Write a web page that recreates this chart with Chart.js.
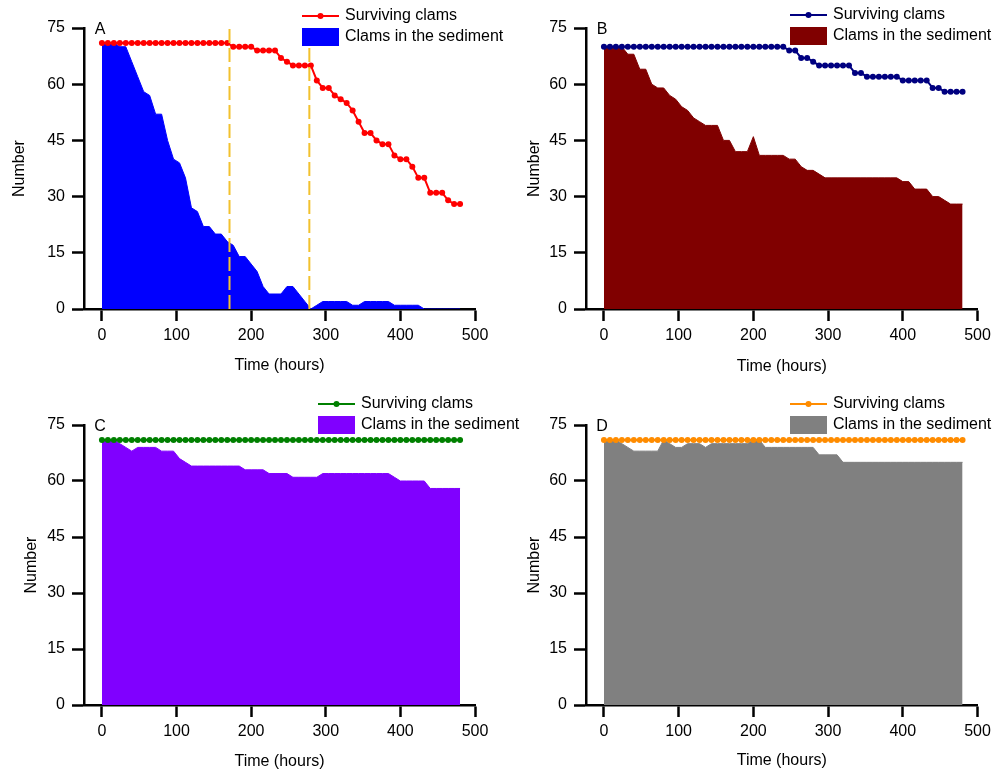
<!DOCTYPE html>
<html lang="en">
<head>
  <meta charset="UTF-8">
  <title>Clams — sediment and survival</title>
  <script src="https://cdn.jsdelivr.net/npm/chart.js"></script>
  <style>
    body { margin: 0; background: #fff; }
    .wrap { position: relative; width: 1005px; height: 771px; }
    canvas { position: absolute; }
  </style>
</head>
<body>
  <div class="wrap">
    <canvas id="chartB" width="503" height="385" style="left:502px;top:0"></canvas>
    <canvas id="chartD" width="503" height="386" style="left:502px;top:385px"></canvas>
    <canvas id="chartA" width="530" height="385" style="left:0;top:0"></canvas>
    <canvas id="chartC" width="530" height="386" style="left:0;top:385px"></canvas>
  </div>

  <script>
    // sampling times, every 8 h
    const hours = [0, 8, 16, 24, 32, 40, 48, 56, 64, 72, 80, 88, 96, 104, 112, 120, 128, 136, 144, 152,
      160, 168, 176, 184, 192, 200, 208, 216, 224, 232, 240, 248, 256, 264, 272, 280, 288, 296, 304, 312,
      320, 328, 336, 344, 352, 360, 368, 376, 384, 392, 400, 408, 416, 424, 432, 440, 448, 456, 464, 472, 480];

    const xTicks = [0, 100, 200, 300, 400, 500];
    const yTicks = [0, 15, 30, 45, 60, 75];
    const seriesLabels = ["Surviving clams", "Clams in the sediment"];
    const markerHoursA = [171, 278];

    const survivingA = [71, 71, 71, 71, 71, 71, 71, 71, 71, 71, 71, 71, 71, 71, 71, 71, 71, 71, 71, 71,
      71, 71, 70, 70, 70, 70, 69, 69, 69, 69, 67, 66, 65, 65, 65, 65, 61, 59, 59, 57,
      56, 55, 53, 50, 47, 47, 45, 44, 44, 41, 40, 40, 38, 35, 35, 31, 31, 31, 29, 28, 28];
    const sedimentA = [71, 71, 71, 70, 70, 66, 62, 58, 57, 52, 52, 45, 40, 39, 35, 27, 26, 22, 22, 20,
      20, 18, 17, 14, 14, 12, 10, 6, 4, 4, 4, 6, 6, 4, 2, 0, 1, 2, 2, 2,
      2, 2, 1, 1, 2, 2, 2, 2, 2, 1, 1, 1, 1, 1, 0, 0, 0, 0, 0, 0, 0];

    const survivingB = [70, 70, 70, 70, 70, 70, 70, 70, 70, 70, 70, 70, 70, 70, 70, 70, 70, 70, 70, 70,
      70, 70, 70, 70, 70, 70, 70, 70, 70, 70, 70, 69, 69, 67, 67, 66, 65, 65, 65, 65,
      65, 65, 63, 63, 62, 62, 62, 62, 62, 62, 61, 61, 61, 61, 61, 59, 59, 58, 58, 58, 58];
    const sedimentB = [70, 70, 70, 70, 68, 68, 64, 64, 60, 59, 59, 57, 56, 54, 53, 51, 50, 49, 49, 49,
      45, 45, 42, 42, 42, 46, 41, 41, 41, 41, 41, 40, 40, 38, 37, 37, 36, 35, 35, 35,
      35, 35, 35, 35, 35, 35, 35, 35, 35, 35, 34, 34, 32, 32, 32, 30, 30, 29, 28, 28, 28];

    const survivingC = [71, 71, 71, 71, 71, 71, 71, 71, 71, 71, 71, 71, 71, 71, 71, 71, 71, 71, 71, 71,
      71, 71, 71, 71, 71, 71, 71, 71, 71, 71, 71, 71, 71, 71, 71, 71, 71, 71, 71, 71,
      71, 71, 71, 71, 71, 71, 71, 71, 71, 71, 71, 71, 71, 71, 71, 71, 71, 71, 71, 71, 71];
    const sedimentC = [71, 71, 71, 70, 69, 68, 69, 69, 69, 69, 68, 68, 68, 66, 65, 64, 64, 64, 64, 64,
      64, 64, 64, 64, 63, 63, 63, 63, 62, 62, 62, 62, 61, 61, 61, 61, 61, 62, 62, 62,
      62, 62, 62, 62, 62, 62, 62, 62, 62, 61, 60, 60, 60, 60, 60, 58, 58, 58, 58, 58, 58];

    const survivingD = [71, 71, 71, 71, 71, 71, 71, 71, 71, 71, 71, 71, 71, 71, 71, 71, 71, 71, 71, 71,
      71, 71, 71, 71, 71, 71, 71, 71, 71, 71, 71, 71, 71, 71, 71, 71, 71, 71, 71, 71,
      71, 71, 71, 71, 71, 71, 71, 71, 71, 71, 71, 71, 71, 71, 71, 71, 71, 71, 71, 71, 71];
    const sedimentD = [71, 71, 71, 70, 69, 68, 68, 68, 68, 68, 71, 70, 69, 69, 70, 70, 70, 69, 70, 70,
      70, 70, 70, 70, 70, 71, 71, 69, 69, 69, 69, 69, 69, 69, 69, 69, 67, 67, 67, 67,
      65, 65, 65, 65, 65, 65, 65, 65, 65, 65, 65, 65, 65, 65, 65, 65, 65, 65, 65, 65, 65];

    const FONT = 'Arial, "Liberation Sans", sans-serif';
    Chart.defaults.font.family = FONT;
    Chart.defaults.font.size = 16;
    Chart.defaults.color = "#000";

    // panel letter, custom legend and dashed time markers
    const panelDecor = {
      id: "panelDecor",
      afterDatasetsDraw(chart, args, o) {
        if (!o.markers) return;
        const ctx = chart.ctx, xs = chart.scales.x, ys = chart.scales.y;
        ctx.save();
        ctx.strokeStyle = "#F2C12E";
        ctx.lineWidth = 2;
        ctx.setLineDash([14, 5]);
        o.markers.forEach(h => {
          const px = xs.getPixelForValue(h);
          ctx.beginPath();
          ctx.moveTo(px, ys.getPixelForValue(0));
          ctx.lineTo(px, ys.getPixelForValue(75));
          ctx.stroke();
        });
        ctx.restore();
      },
      afterDraw(chart, args, o) {
        const ctx = chart.ctx, area = chart.chartArea;
        const ds = chart.data.datasets;
        ctx.save();
        ctx.font = "16px " + FONT;
        ctx.fillStyle = "#000";
        ctx.textAlign = "center";
        ctx.textBaseline = "middle";
        ctx.fillText(o.letter, area.left + 16, area.top + 2);

        const lg = o.legend;
        // line sample
        ctx.strokeStyle = ds[0].borderColor;
        ctx.lineWidth = 2;
        ctx.beginPath();
        ctx.moveTo(lg.x, lg.lineY);
        ctx.lineTo(lg.x + 37, lg.lineY);
        ctx.stroke();
        ctx.fillStyle = ds[0].borderColor;
        ctx.beginPath();
        ctx.arc(lg.x + 18.5, lg.lineY, 3, 0, Math.PI * 2);
        ctx.fill();
        // box sample
        ctx.fillStyle = ds[1].backgroundColor;
        ctx.fillRect(lg.x, lg.boxTop, 37, 18);

        ctx.fillStyle = "#000";
        ctx.textAlign = "left";
        ctx.fillText(ds[0].label, lg.x + 43, lg.lineY);
        ctx.fillText(ds[1].label, lg.x + 43, lg.boxTop + 9);
        ctx.restore();
      }
    };

    function drawPanel(p) {
      const ctx = document.getElementById(p.id).getContext("2d");
      return new Chart(ctx, {
        type: "line",
        data: {
          labels: hours,
          datasets: [
            {
              label: seriesLabels[0], data: p.surviving,
              borderColor: p.lineColor, backgroundColor: p.lineColor,
              borderWidth: 2, pointRadius: 3, pointBorderWidth: 0,
              pointBackgroundColor: p.lineColor, fill: false, tension: 0
            },
            {
              label: seriesLabels[1], data: p.sediment,
              borderColor: p.fillColor, backgroundColor: p.fillColor,
              borderWidth: 1, pointRadius: 0, fill: "origin", tension: 0
            }
          ]
        },
        options: {
          responsive: false,
          animation: false,
          layout: { padding: { left: 0, top: p.top, right: p.right, bottom: 0 } },
          plugins: {
            legend: { display: false },
            tooltip: { enabled: false },
            panelDecor: { letter: p.letter, legend: p.legend, markers: p.markers }
          },
          scales: {
            x: {
              type: "linear", min: -24, max: 500,
              afterBuildTicks: s => { s.ticks = xTicks.map(v => ({ value: v })); },
              afterFit: s => { s.height = p.bottom; },
              grid: { drawOnChartArea: false, drawTicks: true, tickLength: 12, tickWidth: 2.5, tickColor: "#000" },
              border: { display: true, color: "#000", width: 2.5 },
              ticks: { padding: 5, color: "#000", maxRotation: 0 },
              title: { display: true, text: "Time (hours)", color: "#000", padding: { top: 0, bottom: p.xTitlePad } }
            },
            y: {
              min: 0, max: 75,
              afterBuildTicks: s => { s.ticks = yTicks.map(v => ({ value: v })); },
              afterFit: s => { s.width = 84; },
              grid: { drawOnChartArea: false, drawTicks: true, tickLength: 12, tickWidth: 2.5, tickColor: "#000" },
              border: { display: true, color: "#000", width: 2.5 },
              ticks: { padding: 7, color: "#000" },
              title: { display: true, text: "Number", color: "#000", padding: { top: p.yTitlePad, bottom: 0 } }
            }
          }
        },
        plugins: [panelDecor]
      });
    }

    drawPanel({ id: "chartA", letter: "A", surviving: survivingA, sediment: sedimentA,
      lineColor: "#FF0000", fillColor: "#0000FF", markers: markerHoursA,
      top: 28, right: 55, bottom: 76, xTitlePad: 10, yTitlePad: 10,
      legend: { x: 302, lineY: 16, boxTop: 28 } });
    drawPanel({ id: "chartB", letter: "B", surviving: survivingB, sediment: sedimentB,
      lineColor: "#000080", fillColor: "#800000", markers: null,
      top: 28, right: 27.5, bottom: 76, xTitlePad: 9, yTitlePad: 23,
      legend: { x: 288, lineY: 15, boxTop: 27 } });
    drawPanel({ id: "chartC", letter: "C", surviving: survivingC, sediment: sedimentC,
      lineColor: "#008000", fillColor: "#8000FF", markers: null,
      top: 40, right: 55, bottom: 66, xTitlePad: 0, yTitlePad: 22,
      legend: { x: 318, lineY: 19, boxTop: 31 } });
    drawPanel({ id: "chartD", letter: "D", surviving: survivingD, sediment: sedimentD,
      lineColor: "#FF8C00", fillColor: "#808080", markers: null,
      top: 40, right: 27.5, bottom: 66, xTitlePad: 1, yTitlePad: 23,
      legend: { x: 288, lineY: 19, boxTop: 31 } });
  </script>
</body>
</html>
